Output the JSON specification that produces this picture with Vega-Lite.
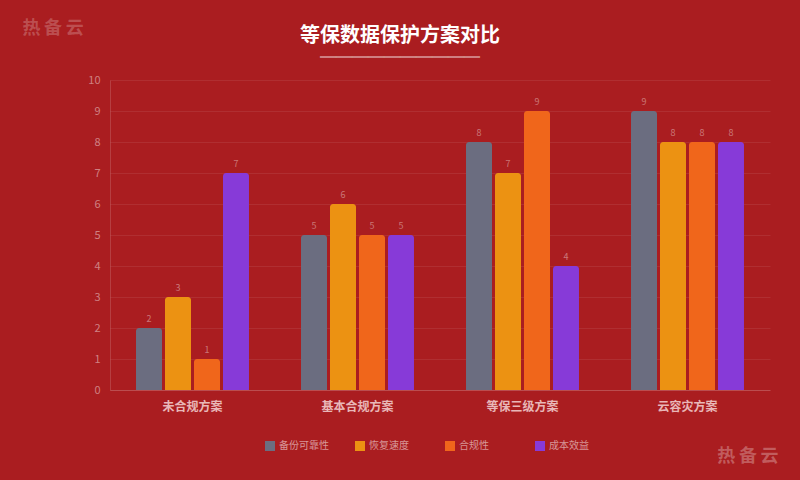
{
  "$schema": "https://vega.github.io/schema/vega-lite/v6.json",
  "width": 660,
  "height": 310,
  "autosize": "none",
  "padding": {"left": 110, "top": 80, "right": 30, "bottom": 90},
  "background": "#aa1d20",
  "title": {
    "text": "等保数据保护方案对比",
    "subtitle": "━━━━━━━━━━",
    "anchor": "middle",
    "dx": -40,
    "dy": 61,
    "offset": 14,
    "font": "Noto Sans CJK SC",
    "fontSize": 20,
    "fontWeight": "bold",
    "color": "#ffffff",
    "subtitleFont": "Noto Sans CJK SC",
    "subtitleFontSize": 16,
    "subtitleColor": "rgba(255,255,255,0.45)",
    "subtitlePadding": 4
  },
  "data": {
    "values": [
      {"方案": "未合规方案", "指标": "备份可靠性", "评分": 2},
      {"方案": "未合规方案", "指标": "恢复速度", "评分": 3},
      {"方案": "未合规方案", "指标": "合规性", "评分": 1},
      {"方案": "未合规方案", "指标": "成本效益", "评分": 7},
      {"方案": "基本合规方案", "指标": "备份可靠性", "评分": 5},
      {"方案": "基本合规方案", "指标": "恢复速度", "评分": 6},
      {"方案": "基本合规方案", "指标": "合规性", "评分": 5},
      {"方案": "基本合规方案", "指标": "成本效益", "评分": 5},
      {"方案": "等保三级方案", "指标": "备份可靠性", "评分": 8},
      {"方案": "等保三级方案", "指标": "恢复速度", "评分": 7},
      {"方案": "等保三级方案", "指标": "合规性", "评分": 9},
      {"方案": "等保三级方案", "指标": "成本效益", "评分": 4},
      {"方案": "云容灾方案", "指标": "备份可靠性", "评分": 9},
      {"方案": "云容灾方案", "指标": "恢复速度", "评分": 8},
      {"方案": "云容灾方案", "指标": "合规性", "评分": 8},
      {"方案": "云容灾方案", "指标": "成本效益", "评分": 8}
    ]
  },
  "encoding": {
    "x": {
      "field": "方案",
      "type": "nominal",
      "sort": ["未合规方案", "基本合规方案", "等保三级方案", "云容灾方案"],
      "scale": {"paddingInner": 0, "paddingOuter": 0},
      "axis": {
        "title": "热\u2009备\u2009云",
        "titleX": 668,
        "titleY": 66,
        "titleAlign": "right",
        "titleBaseline": "middle",
        "titleFont": "Noto Sans CJK SC",
        "titleFontSize": 18,
        "titleFontWeight": "bold",
        "titleColor": "rgba(255,255,255,0.28)",
        "labelAngle": 0,
        "labelFont": "Noto Sans CJK SC",
        "labelFontSize": 12,
        "labelFontWeight": "bold",
        "labelColor": "rgba(255,235,235,0.75)",
        "labelPadding": 11,
        "ticks": false,
        "domainColor": "rgba(255,255,255,0.15)",
        "domainWidth": 1
      }
    },
    "xOffset": {
      "field": "指标",
      "type": "nominal",
      "sort": ["备份可靠性", "恢复速度", "合规性", "成本效益"],
      "scale": {"paddingInner": 0.103, "paddingOuter": 0.897}
    },
    "y": {
      "field": "评分",
      "type": "quantitative",
      "scale": {"domain": [0, 10], "nice": false},
      "axis": {
        "title": "热\u2009备\u2009云",
        "titleX": -88,
        "titleY": -52,
        "titleAngle": 0,
        "titleAlign": "left",
        "titleBaseline": "middle",
        "titleFont": "Noto Sans CJK SC",
        "titleFontSize": 18,
        "titleFontWeight": "bold",
        "titleColor": "rgba(255,255,255,0.22)",
        "values": [0, 1, 2, 3, 4, 5, 6, 7, 8, 9, 10],
        "labelFont": "Noto Sans CJK SC",
        "labelFontSize": 11,
        "labelColor": "rgba(255,255,255,0.45)",
        "labelPadding": 10,
        "ticks": false,
        "grid": true,
        "gridColor": "rgba(255,255,255,0.08)",
        "domainColor": "rgba(255,255,255,0.15)"
      }
    }
  },
  "layer": [
    {
      "mark": {"type": "bar", "cornerRadiusTopLeft": 3, "cornerRadiusTopRight": 3},
      "encoding": {
        "color": {
          "field": "指标",
          "type": "nominal",
          "sort": ["备份可靠性", "恢复速度", "合规性", "成本效益"],
          "scale": {
            "domain": ["备份可靠性", "恢复速度", "合规性", "成本效益"],
            "range": ["#6b6d80", "#ec9212", "#f0661b", "#873ad8"]
          },
          "legend": {
            "title": null,
            "orient": "none",
            "legendX": 155,
            "legendY": 361,
            "direction": "horizontal",
            "columns": 4,
            "gridAlign": "all",
            "columnPadding": 26,
            "symbolType": "square",
            "symbolSize": 100,
            "symbolStrokeWidth": 0,
            "labelFont": "Noto Sans CJK SC",
            "labelFontSize": 10,
            "labelColor": "rgba(255,255,255,0.55)",
            "labelOffset": 4
          }
        }
      }
    },
    {
      "mark": {
        "type": "text",
        "baseline": "bottom",
        "dy": -4,
        "font": "Noto Sans CJK SC",
        "fontSize": 9,
        "color": "rgba(255,255,255,0.4)"
      },
      "encoding": {
        "text": {"field": "评分", "type": "quantitative"}
      }
    }
  ],
  "config": {
    "view": {"stroke": null},
    "font": "Noto Sans CJK SC"
  }
}
